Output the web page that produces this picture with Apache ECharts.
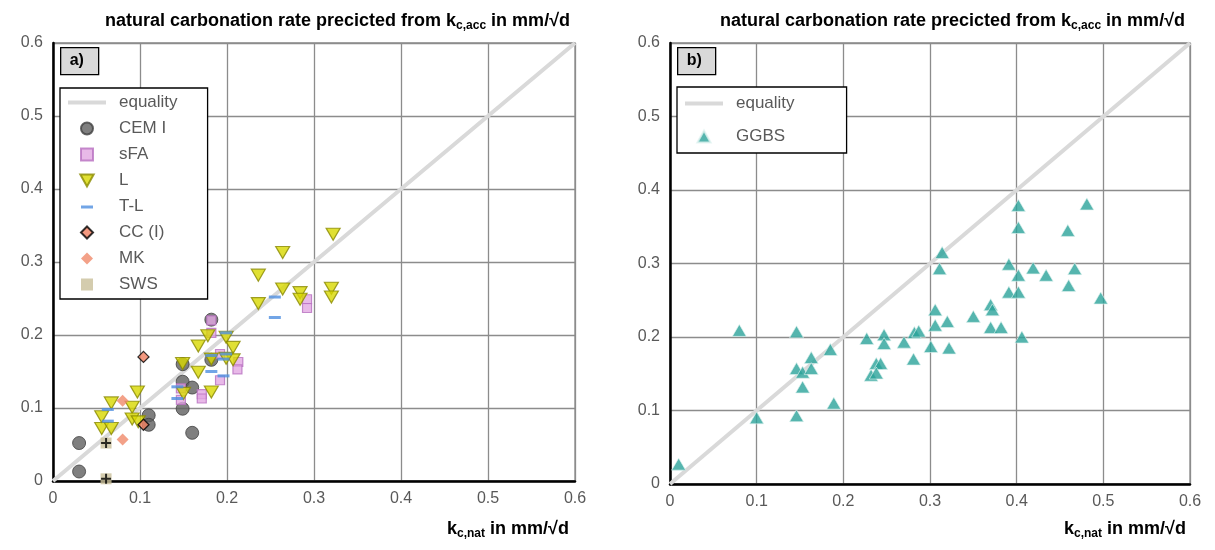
<!DOCTYPE html>
<html>
<head>
<meta charset="utf-8">
<script src="https://cdn.jsdelivr.net/npm/echarts@6/dist/echarts.min.js"></script>
<style>html,body{margin:0;padding:0;background:#fff}#main{width:1215px;height:550px}</style>
</head>
<body>
<div id="main"></div>
<script>
// data: [k_c,nat, k_c,acc predicted]
var equality = [[0, 0], [0.6, 0.6]];
var cemI = [[0.030,0.052],[0.030,0.013],[0.110,0.090],[0.110,0.077],[0.149,0.160],[0.149,0.136],[0.160,0.128],[0.149,0.099],[0.160,0.066],[0.182,0.221],[0.182,0.166]];
var sFA = [[0.182,0.220],[0.182,0.203],[0.192,0.174],[0.213,0.163],[0.212,0.153],[0.192,0.138],[0.171,0.119],[0.171,0.113],[0.147,0.111],[0.147,0.127],[0.292,0.249],[0.292,0.237]];
var L = [[0.322,0.338],[0.264,0.313],[0.236,0.282],[0.264,0.263],[0.284,0.258],[0.284,0.249],[0.320,0.264],[0.320,0.252],[0.236,0.243],[0.178,0.199],[0.199,0.197],[0.207,0.183],[0.207,0.166],[0.199,0.168],[0.167,0.185],[0.149,0.161],[0.182,0.167],[0.167,0.149],[0.182,0.122],[0.150,0.120],[0.097,0.122],[0.067,0.107],[0.091,0.101],[0.056,0.088],[0.091,0.085],[0.098,0.081],[0.056,0.072],[0.067,0.072]];
var TL = [[0.255,0.252],[0.255,0.224],[0.199,0.203],[0.199,0.174],[0.182,0.172],[0.196,0.167],[0.182,0.150],[0.196,0.144],[0.143,0.129],[0.143,0.113],[0.063,0.098],[0.063,0.082]];
var CC = [[0.104,0.170],[0.104,0.077]];
var MK = [[0.080,0.110],[0.080,0.057]];
var SWS = [[0.061,0.052],[0.061,0.003]];
var GGBS = [[0.010,0.027],[0.080,0.209],[0.100,0.090],[0.146,0.207],[0.146,0.093],[0.146,0.157],[0.153,0.152],[0.153,0.132],[0.163,0.172],[0.163,0.157],[0.185,0.183],[0.189,0.110],[0.227,0.198],[0.247,0.203],[0.247,0.191],[0.238,0.164],[0.243,0.164],[0.232,0.148],[0.238,0.151],[0.270,0.193],[0.281,0.170],[0.282,0.206],[0.287,0.208],[0.301,0.187],[0.306,0.216],[0.306,0.237],[0.311,0.293],[0.314,0.315],[0.322,0.185],[0.320,0.221],[0.350,0.228],[0.370,0.244],[0.372,0.237],[0.370,0.213],[0.382,0.213],[0.391,0.261],[0.402,0.261],[0.391,0.299],[0.402,0.284],[0.406,0.200],[0.402,0.379],[0.402,0.349],[0.419,0.294],[0.434,0.284],[0.459,0.345],[0.460,0.270],[0.467,0.293],[0.481,0.381],[0.497,0.253]];
var ticks = [0, 0.1, 0.2, 0.3, 0.4, 0.5, 0.6];

var font = 'Liberation Sans, Arial, sans-serif';
var grey = '#595959';
var triDown = 'path://M0,0 L10,0 L5,9 Z';
var triUp = 'path://M5,0 L10,9 L0,9 Z';
var plus = 'path://M4,0 L6,0 L6,4 L10,4 L10,6 L6,6 L6,10 L4,10 L4,6 L0,6 L0,4 L4,4 Z';
var circ = 'path://M5,0 A5,5 0 1,1 5,10 A5,5 0 1,1 5,0 Z';
var sq = 'path://M0,0 L10,0 L10,10 L0,10 Z';
var dia = 'path://M5,0 L10,5 L5,10 L0,5 Z';
var dash = 'path://M0,0 L0,12 M38,0 L38,12 M13,5 L25,5 L25,8 L13,8 Z';
var eqIcon = 'path://M0,0 L40,0 L40,4 L0,4 Z';

function axis(idx) {
  return {
    gridIndex: idx, type: 'value', min: ticks[0], max: ticks[ticks.length - 1], interval: 0.1,
    axisLine: { show: true, onZero: false, lineStyle: { color: '#000', width: 2.5 } },
    axisTick: { show: false },
    splitLine: { show: true, lineStyle: { color: '#8c8c8c', width: 1.3 } },
    axisLabel: { color: grey, fontSize: 16, fontFamily: font, margin: 10,
      formatter: function (v) { return v === 0 ? '0' : String(+v.toFixed(1)); } }
  };
}
function title(right) {
  return { text: '{a|natural carbonation rate precicted from k}{s|c,acc}{a| in mm/√d}', right: right, top: 6,
    textStyle: { rich: { a: { fontSize: 18, fontWeight: 'bold', fontFamily: font, color: '#000' },
      s: { fontSize: 12, fontWeight: 'bold', fontFamily: font, color: '#000', padding: [9, 0, 0, 0] } } } };
}
function xname(left, top) {
  return { type: 'text', left: left, top: top, style: { rich: {
      a: { fontSize: 18, fontWeight: 'bold', fontFamily: font, fill: '#000' },
      s: { fontSize: 12, fontWeight: 'bold', fontFamily: font, fill: '#000', padding: [9, 0, 0, 0] } },
    text: '{a|k}{s|c,nat}{a| in mm/√d}' } };
}
function sc(name, data, idx, style) {
  var s = { name: name, type: 'scatter', data: data, xAxisIndex: idx, yAxisIndex: idx, z: 3 };
  for (var k in style) s[k] = style[k];
  return s;
}
function eq(idx) {
  return { name: 'equality', type: 'line', data: equality, xAxisIndex: idx, yAxisIndex: idx, symbol: 'none',
    lineStyle: { color: '#d9d9d9', width: 4 }, itemStyle: { color: '#d9d9d9' }, z: 2 };
}
function legendBox(items, left, top, gap, right, pad) {
  return { orient: 'vertical', left: left, top: top, data: items, itemGap: gap,
    itemWidth: 38, itemHeight: 12, symbolKeepAspect: true, padding: [pad, right, pad, 8],
    backgroundColor: '#fff', borderColor: '#000', borderWidth: 1.3, borderRadius: 0,
    textStyle: { color: grey, fontSize: 17, fontFamily: font, padding: [0, 0, 0, 8] } };
}
function label(txt, left, top) {
  return { type: 'group', left: left, top: top, children: [
    { type: 'rect', shape: { width: 38, height: 27 }, style: { fill: '#d9d9d9', stroke: '#000', lineWidth: 1.3 } },
    { type: 'text', left: 9, top: 5, style: { text: txt, font: 'bold 16px ' + font, fill: '#000' } } ] };
}

var chart = echarts.init(document.getElementById('main'));
chart.setOption({
  animation: false,
  title: [title(640), title(25)],
  grid: [
    { left: 53, right: 640, top: 43, bottom: 69, show: true, borderColor: '#8c8c8c', borderWidth: 1.3 },
    { left: 670, right: 25, top: 43, bottom: 66, show: true, borderColor: '#8c8c8c', borderWidth: 1.3 }
  ],
  xAxis: [axis(0), axis(1)],
  yAxis: [axis(0), axis(1)],
  legend: [
    legendBox([{ name: 'equality', icon: eqIcon }, { name: 'CEM I', icon: circ }, { name: 'sFA', icon: sq },
      { name: 'L', icon: triDown }, { name: 'T-L', icon: dash }, { name: 'CC (I)', icon: dia },
      { name: 'MK', icon: dia }, { name: 'SWS', icon: sq }], 60, 88, 9, 30, 6),
    legendBox([{ name: 'equality', icon: eqIcon }, { name: 'GGBS', icon: triUp }], 677, 87, 16, 52, 8)
  ],
  graphic: [label('a)', 60, 47), label('b)', 677, 47), xname(447, 520), xname(1064, 520)],
  series: [
    eq(0),
    sc('CEM I', cemI, 0, { symbol: 'circle', symbolSize: 13, itemStyle: { color: '#5f5f5f', borderColor: '#404040', borderWidth: 1 } }),
    sc('sFA', sFA, 0, { symbol: 'rect', symbolSize: 9, itemStyle: { color: '#e2a8e2', borderColor: '#b870c0', borderWidth: 1.2 } }),
    sc('L', L, 0, { symbol: triDown, symbolSize: [14, 12], itemStyle: { color: '#d8d800', borderColor: '#8a8a00', borderWidth: 1.2 } }),
    sc('T-L', TL, 0, { symbol: 'rect', symbolSize: [12, 3], itemStyle: { color: '#4f8fe0' } }),
    sc('CC (I)', CC, 0, { symbol: 'diamond', symbolSize: 11, itemStyle: { color: '#f08060', borderColor: '#000', borderWidth: 1.3 } }),
    sc('MK', MK, 0, { symbol: 'diamond', symbolSize: 12, itemStyle: { color: '#f08a6a' } }),
    sc('SWS', SWS, 0, { symbol: 'rect', symbolSize: 11, itemStyle: { color: '#c9bf9a' } }),
    sc('SWS+', SWS, 0, { symbol: plus, symbolSize: 10, itemStyle: { color: '#000' }, z: 4 }),
    eq(1),
    sc('GGBS', GGBS, 1, { symbol: triUp, symbolSize: [14, 12], itemStyle: { color: '#2aa39a', borderColor: '#e0f2f0', borderWidth: 0.8 } })
  ]
});
</script>
</body>
</html>
